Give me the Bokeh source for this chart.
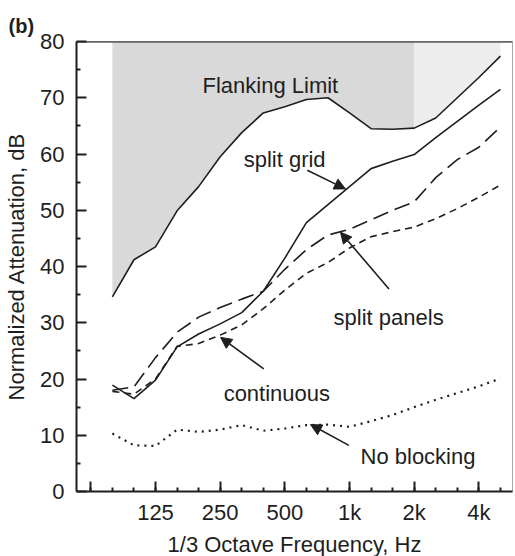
import numpy as np
from bokeh.plotting import figure
from bokeh.models import (Range1d, FixedTicker, Label, Arrow, NormalHead, Span, Title)
from bokeh.embed import file_html
from bokeh.resources import INLINE

# 1/3-octave band names (63 Hz = position 0)
bands = ["63", "80", "100", "125", "160", "200", "250", "315", "400", "500",
         "630", "800", "1k", "1.25k", "1.6k", "2k", "2.5k", "3.15k", "4k", "5k"]
data_bands = bands[1:]
tick_bands = ["63", "125", "250", "500", "1k", "2k", "4k"]
tick_labels = ["", "125", "250", "500", "1k", "2k", "4k"]
y_ticks = [0, 10, 20, 30, 40, 50, 60, 70, 80]
y_minor = [5, 15, 25, 35, 45, 55, 65, 75]

flanking = [34.6, 41.2, 43.5, 49.9, 54.2, 59.5, 63.8, 67.3, 68.4, 69.7,
            70.0, 67.3, 64.5, 64.4, 64.6, 66.4, 70.0, 73.6, 77.4]
split_grid = [18.9, 16.5, 19.8, 25.7, 28.0, 29.8, 31.8, 35.6, 41.5, 47.8,
              51.0, 54.2, 57.4, 58.7, 59.9, 62.9, 65.8, 68.7, 71.5]
split_panels = [18.0, 18.6, 23.8, 28.3, 31.0, 32.7, 34.2, 35.6, 39.5, 43.0,
                45.6, 46.6, 48.3, 50.0, 51.5, 55.8, 59.0, 61.2, 64.8]
continuous = [17.8, 17.3, 20.0, 25.8, 26.3, 27.8, 29.6, 32.5, 35.8, 38.8,
              40.7, 43.3, 45.3, 46.2, 47.0, 48.5, 50.3, 52.3, 54.5]
no_blocking = [10.3, 8.2, 8.1, 11.0, 10.6, 11.0, 11.8, 10.8, 11.2, 11.8,
               11.9, 11.5, 12.5, 13.6, 15.0, 16.3, 17.5, 18.7, 20.1]

x = [bands.index(b) for b in data_bands]
FONT = "Liberation Sans"
INK = "#1e1e1e"

p = figure(frame_width=436, frame_height=450, output_backend="svg",
           toolbar_location=None,
           x_range=Range1d(-0.665, 19.56), y_range=Range1d(0, 80),
           min_border_left=76, min_border_right=3, min_border_top=41,
           min_border_bottom=65, background_fill_color="white")
p.grid.visible = False
p.outline_line_color = "#a8a8a8"
p.outline_line_width = 1

p.title.text = "(b)"
p.title.align = "left"
p.title.offset = -68
p.title.standoff = 10
p.title.text_font = FONT
p.title.text_font_size = "20px"
p.title.text_font_style = "bold"
p.title.text_color = INK

# flanking-limit shading
split = bands.index("2k")
xa = [xi for xi in x if xi <= split]
fa = [f for xi, f in zip(x, flanking) if xi <= split]
xb = [xi for xi in x if xi >= split]
fb = [f for xi, f in zip(x, flanking) if xi >= split]
p.varea(x=xa, y1=fa, y2=[80] * len(xa), fill_color="#d9d9d9")
p.varea(x=xb, y1=fb, y2=[80] * len(xb), fill_color="#ededed")

p.line(x, flanking, line_color=INK, line_width=1.6)
p.line(x, split_grid, line_color=INK, line_width=1.6)
p.line(x, split_panels, line_color=INK, line_width=1.6, line_dash="16 7")
p.line(x, continuous, line_color=INK, line_width=1.6, line_dash="7 5")
p.line(x, no_blocking, line_color=INK, line_width=2.2, line_dash="2 5")

p.add_layout(Span(location=80, dimension="width", line_color=INK, line_width=2))

# axes
xticks = [bands.index(b) for b in tick_bands]
p.xaxis.ticker = FixedTicker(ticks=xticks, minor_ticks=list(range(len(bands))))
p.xaxis.major_label_overrides = {t: l for t, l in zip(xticks, tick_labels)}
p.yaxis.ticker = FixedTicker(ticks=y_ticks, minor_ticks=y_minor)

for ax in (p.xaxis[0], p.yaxis[0]):
    ax.axis_line_color = INK
    ax.axis_line_width = 2
    ax.major_tick_line_color = INK
    ax.minor_tick_line_color = INK
    ax.major_tick_line_width = 2
    ax.minor_tick_line_width = 2
    ax.major_tick_in = 10
    ax.major_tick_out = 0
    ax.minor_tick_in = 4
    ax.minor_tick_out = 0
    ax.major_label_text_font = FONT
    ax.major_label_text_font_size = "22px"
    ax.major_label_text_color = INK
    ax.axis_label_text_font = FONT
    ax.axis_label_text_font_size = "22px"
    ax.axis_label_text_font_style = "normal"
    ax.axis_label_text_color = INK

p.xaxis.axis_label = "1/3 Octave Frequency, Hz"
p.yaxis.axis_label = "Normalized Attenuation, dB"
p.xaxis.major_label_standoff = 8
p.xaxis.axis_label_standoff = 4
p.yaxis.major_label_standoff = 12
p.yaxis.axis_label_standoff = 8

# text annotations
def txt(xv, yv, s, size="22px", style="normal"):
    p.add_layout(Label(x=xv, y=yv, text=s, text_font=FONT, text_font_size=size,
                       text_font_style=style, text_color=INK,
                       text_baseline="alphabetic", text_align="left"))

txt(5.18, 72.2, "Flanking Limit")
txt(7.09, 59.1, "split grid")
txt(11.26, 30.9, "split panels")
txt(6.16, 17.4, "continuous")
txt(12.51, 6.2, "No blocking")

def arrow(x0, y0, x1, y1):
    p.add_layout(Arrow(x_start=x0, y_start=y0, x_end=x1, y_end=y1,
                       line_color=INK, line_width=1.6,
                       end=NormalHead(size=11, fill_color=INK, line_color=INK)))

arrow(10.04, 57.1, 11.81, 53.8)
arrow(13.83, 36.0, 11.58, 46.1)
arrow(8.02, 21.8, 6.02, 27.4)
arrow(11.97, 8.2, 10.19, 11.9)

open("out.html", "w").write(file_html(p, INLINE))
